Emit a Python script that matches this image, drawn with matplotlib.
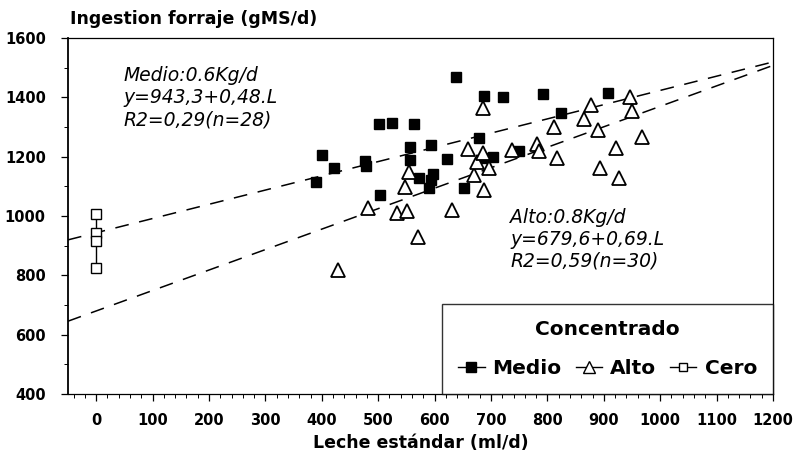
import matplotlib
matplotlib.use("Agg")
import matplotlib.pyplot as plt
import numpy as np
from matplotlib.ticker import MultipleLocator
from matplotlib.lines import Line2D

# Data
medio_x = [389, 401, 421, 477, 479, 502, 525, 564, 504, 556, 556, 572, 593, 598,
           593, 590, 622, 638, 653, 678, 688, 690, 703, 722, 749, 793, 824, 907]
medio_y = [1115, 1207, 1162, 1186, 1170, 1309, 1315, 1310, 1072, 1232, 1189, 1127, 1240, 1142,
           1120, 1095, 1191, 1470, 1093, 1264, 1405, 1197, 1198, 1402, 1219, 1410, 1348, 1416]
alto_x = [428, 482, 533, 551, 547, 555, 570, 631, 660, 669, 675, 685, 686, 687, 697,
          737, 781, 786, 812, 817, 865, 877, 889, 894, 922, 927, 946, 950, 967]
alto_y = [818, 1028, 1009, 1018, 1098, 1148, 929, 1019, 1225, 1137, 1181, 1213, 1365, 1088, 1163,
          1224, 1244, 1220, 1300, 1195, 1326, 1374, 1289, 1163, 1229, 1129, 1402, 1355, 1265]
cero_x = [0, 0, 0, 0]
cero_y = [1007, 943, 916, 825]

medio_fit = (943.3, 0.48)
alto_fit = (679.6, 0.69)

x_ticks = list(range(0, 1201, 100))
y_ticks = list(range(400, 1601, 200))

fig = plt.figure(figsize=(7.96, 4.58), dpi=100)
ax = fig.add_axes([0.0854, 0.140, 0.8857, 0.777])
ax.set_xlim(-50, 1200)
ax.set_ylim(400, 1600)

xl = np.array([-50, 1200])
for a, b in (medio_fit, alto_fit):
    ax.plot(xl, a + b * xl, color='black', lw=1.1, dashes=(9, 7), zorder=2)

ax.plot(medio_x, medio_y, 's', color='black', ms=7.5, zorder=3)
ax.plot(alto_x, alto_y, '^', mfc='white', mec='black', mew=1.3, ms=10.5, zorder=3)
ax.plot(cero_x, cero_y, '-s', color='black', mfc='white', mec='black', mew=1.0, ms=7, lw=1.0,
        zorder=3)

ax.set_xticks(x_ticks)
ax.set_yticks(y_ticks)
ax.xaxis.set_minor_locator(MultipleLocator(20))
ax.yaxis.set_minor_locator(MultipleLocator(100))
ax.tick_params(axis='both', which='major', direction='out', length=5, width=0.9, labelsize=10.5)
ax.tick_params(axis='both', which='minor', direction='out', length=3, width=0.7)
for lab in ax.get_xticklabels() + ax.get_yticklabels():
    lab.set_fontweight('bold')
ax.tick_params(axis='x', pad=9)
ax.tick_params(axis='y', pad=11)

for s in ['top', 'right', 'bottom']:
    ax.spines[s].set_linewidth(0.9)
ax.spines['left'].set_linewidth(1.3)

fig.text(0.088, 0.958, 'Ingestion forraje (gMS/d)', fontsize=12.5, fontweight='bold',
         ha='left', va='center')
ax.set_xlabel('Leche estándar (ml/d)', fontsize=12.5, fontweight='bold', labelpad=4)

ann_font = dict(family='DejaVu Sans', style='italic', fontweight='normal')
ax.text(48, 1398, 'Medio:0.6Kg/d\ny=943,3+0,48.L\nR2=0,29(n=28)', fontsize=13.5,
        linespacing=1.2, va='center', ha='left', **ann_font)
ax.text(734, 922, 'Alto:0.8Kg/d\ny=679,6+0,69.L\nR2=0,59(n=30)', fontsize=13.5,
        linespacing=1.2, va='center', ha='left', **ann_font)

handles = [
    Line2D([], [], color='black', marker='s', ms=7, lw=1.0),
    Line2D([], [], color='black', marker='^', mfc='white', mec='black', ms=9, lw=1.0),
    Line2D([], [], color='black', marker='s', mfc='white', mec='black', ms=6, lw=1.0),
]
leg = ax.legend(handles, ['Medio', 'Alto', 'Cero'], title='Concentrado', loc='lower right',
                ncol=3, frameon=True, fancybox=False, edgecolor='black',
                handlelength=1.3, handletextpad=0.4, columnspacing=0.7, borderpad=0.8,
                borderaxespad=0.0, labelspacing=1.0,
                prop={'weight': 'bold', 'size': 14.5}, title_fontsize=14.5)
leg.get_title().set_fontweight('bold')
leg.get_frame().set_linewidth(1.0)

fig.savefig('out.png', dpi=100)
